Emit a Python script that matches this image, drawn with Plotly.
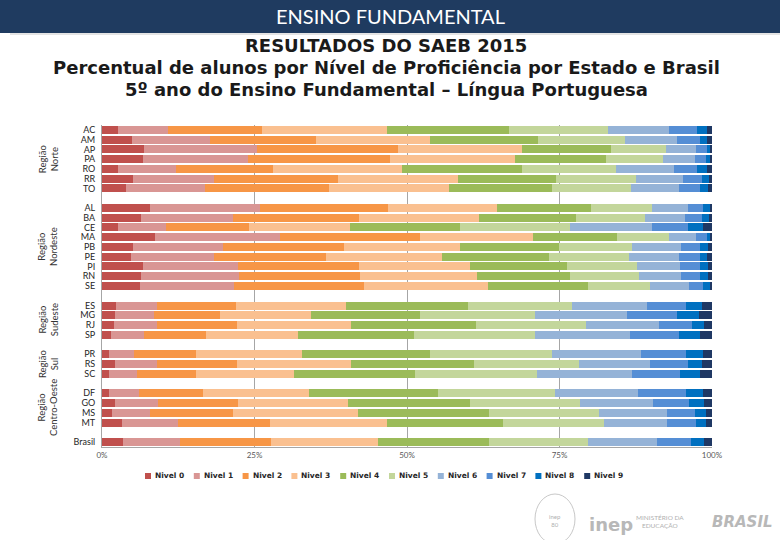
"""
SAEB 2015 - distribuicao por nivel de proficiencia (5o ano, Lingua Portuguesa)
"""

import plotly.graph_objects as go

# estados por regiao
norte = ["AC", "AM", "AP", "PA", "RO", "RR", "TO"]
nordeste = ["AL", "BA", "CE", "MA", "PB", "PE", "PI", "RN", "SE"]
sudeste = ["ES", "MG", "RJ", "SP"]
sul = ["PR", "RS", "SC"]
centro_oeste = ["DF", "GO", "MS", "MT"]
brasil = ["Brasil"]

regioes = ["Região<br>Norte", "Região<br>Nordeste", "Região<br>Sudeste",
           "Região<br>Sul", "Região<br>Centro-Oeste"]

estados = norte + nordeste + sudeste + sul + centro_oeste + brasil

niveis = ["Nivel 0", "Nivel 1", "Nivel 2", "Nivel 3", "Nivel 4",
          "Nivel 5", "Nivel 6", "Nivel 7", "Nivel 8", "Nivel 9"]

# percentuais por nivel, na ordem de `estados`
nivel_0 = [2.6, 4.9, 6.9, 6.8, 2.6, 5.1, 4.0, 7.8, 6.4, 2.6, 8.7, 5.0, 4.8, 6.7,
           6.4, 6.2, 2.3, 2.1, 1.9, 1.5, 1.2, 2.2, 1.2, 1.2, 2.2, 1.7, 3.2, 3.4]
nivel_1 = [8.3, 12.8, 18.5, 17.2, 9.5, 13.3, 12.9, 18.1, 15.1, 7.9, 20.4, 14.8,
           13.6, 15.6, 16.0, 15.5, 6.7, 6.5, 7.1, 5.4, 4.0, 6.8, 4.5, 4.8, 6.9,
           6.2, 9.2, 9.4]
nivel_2 = [15.3, 17.4, 23.2, 23.2, 16.0, 20.3, 20.3, 21.0, 20.7, 13.6, 23.0,
           19.8, 18.3, 19.9, 19.9, 21.3, 13.0, 10.8, 13.1, 10.1, 10.2, 13.2, 9.7,
           10.6, 13.2, 13.5, 15.2, 14.9]
nivel_3 = [20.5, 18.6, 20.3, 20.5, 21.0, 19.6, 19.7, 17.8, 19.6, 16.5, 18.6,
           19.1, 19.1, 18.2, 19.1, 20.3, 18.0, 14.9, 18.8, 15.2, 17.4, 18.7,
           16.1, 17.4, 18.1, 20.5, 19.2, 17.6]
nivel_4 = [20.1, 17.8, 14.5, 14.9, 19.8, 16.1, 16.8, 15.4, 15.9, 18.1, 13.7,
           16.2, 17.5, 15.9, 15.3, 16.3, 20.0, 17.8, 20.4, 18.9, 21.0, 20.1,
           19.8, 21.0, 19.9, 21.5, 18.9, 18.1]
nivel_5 = [16.1, 14.2, 9.1, 9.4, 15.4, 13.1, 13.1, 10.1, 11.3, 18.0, 8.5, 12.0,
           13.1, 11.4, 11.3, 10.2, 17.1, 18.9, 18.1, 19.9, 19.9, 17.2, 20.0,
           19.2, 18.0, 18.1, 16.6, 16.2]
nivel_6 = [10.0, 8.6, 4.8, 5.2, 9.4, 7.7, 7.8, 5.8, 6.5, 13.4, 4.5, 8.0, 8.2,
           7.0, 6.9, 6.4, 12.2, 15.0, 11.9, 15.5, 14.6, 11.6, 15.6, 13.7, 12.0,
           11.2, 10.3, 11.4]
nivel_7 = [4.6, 3.7, 1.8, 1.8, 3.9, 3.1, 3.5, 2.5, 2.9, 6.0, 1.7, 3.2, 3.4, 3.4,
           3.2, 2.3, 6.5, 8.3, 5.5, 8.1, 7.4, 6.3, 7.8, 7.8, 5.9, 4.5, 4.7, 5.5]
nivel_8 = [1.7, 1.1, 0.6, 0.6, 1.6, 1.2, 1.2, 1.2, 1.1, 2.4, 0.6, 1.2, 1.2, 1.2,
           1.2, 1.1, 2.5, 3.6, 1.9, 3.5, 2.8, 2.3, 3.4, 2.8, 2.5, 1.8, 1.7, 2.2]
nivel_9 = [0.8, 0.9, 0.3, 0.4, 0.8, 0.5, 0.7, 0.3, 0.5, 1.5, 0.3, 0.7, 0.8, 0.7,
           0.7, 0.4, 1.7, 2.1, 1.3, 1.9, 1.5, 1.6, 1.9, 1.5, 1.3, 1.0, 1.0, 1.3]

valores = [nivel_0, nivel_1, nivel_2, nivel_3, nivel_4,
           nivel_5, nivel_6, nivel_7, nivel_8, nivel_9]

cores = ["#c0504d", "#d99694", "#f79646", "#fac090", "#9bbb59",
         "#c3d69b", "#95b3d7", "#558ed5", "#0070c0", "#1f3864"]

tick_x = [0, 25, 50, 75, 100]
tick_x_text = ["0%", "25%", "50%", "75%", "100%"]

# ordem das categorias com uma linha vazia entre regioes
grupos = [norte, nordeste, sudeste, sul, centro_oeste, brasil]
categorias = []
for i, g in enumerate(grupos):
    if i > 0:
        categorias.append(" " * i)
    categorias.extend(g)

W, H = 780, 540
ML, MR, MT, MB = 102, 68, 125, 93


def px(x):
    # pixel horizontal -> coordenada paper
    return (x - ML) / (W - ML - MR)


def py(y):
    # pixel vertical -> coordenada paper
    return (H - MB - y) / (H - MT - MB)


fig = go.Figure()

for nome, vals, cor in zip(niveis, valores, cores):
    fig.add_trace(go.Bar(
        y=estados,
        x=vals,
        name=nome,
        orientation="h",
        marker=dict(color=cor, line=dict(width=0)),
    ))

# rotulos das regioes
for reg, g in zip(regioes, grupos[:5]):
    idx = [categorias.index(s) for s in g]
    fig.add_annotation(
        x=px(48), xref="paper", xanchor="center",
        y=sum(idx) / len(idx), yref="y", yanchor="middle",
        text=reg, textangle=-90, showarrow=False,
        font=dict(family="Lato", size=9.5, color="#333333"),
    )

# legenda desenhada a mao (mais compacta que a nativa)
for i, (nome, cor) in enumerate(zip(niveis, cores)):
    x0 = 148 + 48.8 * i
    fig.add_shape(type="rect", xref="paper", yref="paper",
                  x0=px(x0 - 3), x1=px(x0 + 3), y0=py(479), y1=py(473),
                  fillcolor=cor, line=dict(width=0))
    fig.add_annotation(x=px(x0 + 5), y=py(476), xref="paper", yref="paper",
                       xanchor="left", yanchor="middle", text="<b>" + nome + "</b>",
                       showarrow=False,
                       font=dict(family="DejaVu Sans", size=7.5, color="#262626"))

# faixa do topo
fig.add_shape(type="rect", xref="paper", yref="paper",
              x0=px(0), x1=px(W), y0=py(33), y1=py(0),
              fillcolor="#1f3b60", line=dict(width=0))
fig.add_shape(type="line", xref="paper", yref="paper",
              x0=px(10), x1=px(W), y0=py(34), y1=py(34),
              line=dict(color="#c8c8c8", width=1))
fig.add_annotation(x=px(390), y=py(16), xref="paper", yref="paper",
                   xanchor="center", yanchor="middle",
                   text="ENSINO FUNDAMENTAL", showarrow=False,
                   font=dict(family="Lato", size=20, color="white"))

titulos = ["RESULTADOS DO SAEB 2015",
           "Percentual de alunos por Nível de Proficiência por Estado e Brasil",
           "5º ano do Ensino Fundamental – Língua Portuguesa"]
for t, yy in zip(titulos, [46, 67, 89]):
    fig.add_annotation(x=px(386), y=py(yy), xref="paper", yref="paper",
                       xanchor="center", yanchor="middle",
                       text="<b>" + t + "</b>", showarrow=False,
                       font=dict(family="DejaVu Sans", size=18, color="#1a1a1a"))

# logos (aproximados em texto)
fig.add_shape(type="circle", xref="paper", yref="paper",
              x0=px(535), x1=px(575), y0=py(544), y1=py(494),
              line=dict(color="#c8c8c8", width=1))
fig.add_annotation(x=px(555), y=py(520), xref="paper", yref="paper",
                   xanchor="center", yanchor="middle",
                   text="inep<br>80", showarrow=False,
                   font=dict(family="Lato", size=6, color="#b0b0b0"))
fig.add_annotation(x=px(611), y=py(524), xref="paper", yref="paper",
                   xanchor="center", yanchor="middle",
                   text="<b>inep</b>", showarrow=False,
                   font=dict(family="DejaVu Sans", size=18, color="#b8b8b8"))
fig.add_annotation(x=px(660), y=py(521), xref="paper", yref="paper",
                   xanchor="center", yanchor="middle",
                   text="MINISTÉRIO DA<br>EDUCAÇÃO", showarrow=False,
                   font=dict(family="Lato", size=6.5, color="#b0b0b0"))
fig.add_annotation(x=px(742), y=py(522), xref="paper", yref="paper",
                   xanchor="center", yanchor="middle",
                   text="<b><i>BRASIL</i></b>", showarrow=False,
                   font=dict(family="DejaVu Sans", size=15, color="#b8b8b8"))

fig.update_layout(
    barmode="stack",
    bargap=0.18,
    width=W,
    height=H,
    margin=dict(l=ML, r=MR, t=MT, b=MB),
    paper_bgcolor="white",
    plot_bgcolor="white",
    showlegend=False,
    xaxis=dict(
        range=[0, 100],
        tickvals=tick_x,
        ticktext=tick_x_text,
        showgrid=True,
        gridcolor="#a6a6a6",
        gridwidth=1,
        showline=True,
        linecolor="#a6a6a6",
        zeroline=False,
        tickfont=dict(family="Lato", size=8, color="#595959"),
    ),
    yaxis=dict(
        type="category",
        categoryorder="array",
        categoryarray=categorias,
        tickmode="array",
        tickvals=estados,
        ticktext=estados,
        autorange="reversed",
        showgrid=False,
        showline=True,
        linecolor="#a6a6a6",
        ticks="",
        tickfont=dict(family="Lato", size=9, color="#262626"),
        ticklabelstandoff=4,
    ),
)

# a pagina padrao tem margem de 8px no body; zera para alinhar a figura
fig.write_html(
    "out.html",
    config={"displayModeBar": False},
    post_script="document.body.style.margin = '0';",
)
